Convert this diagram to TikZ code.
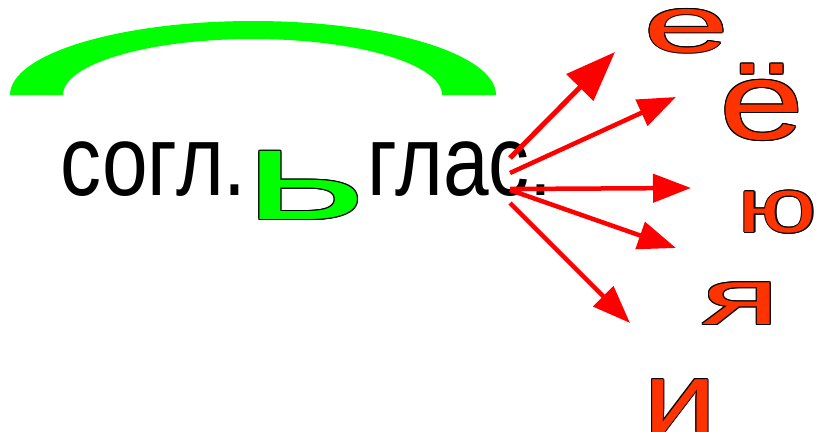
\documentclass[tikz,border=0pt]{standalone}
\usepackage{fontspec}
\setmainfont{Liberation Sans}
\usepackage{graphicx}
\usetikzlibrary{arrows.meta}
\definecolor{orred}{RGB}{255,51,0}
\definecolor{brgreen}{RGB}{0,255,0}
\definecolor{arred}{RGB}{255,0,0}
\newcommand\olsh[3]{\rlap{\hspace*{#1}\raisebox{#2}{#3}}}
\newcommand\outl[2]{{\color{black}%
  \olsh{1.1pt}{0pt}{#2}\olsh{-1.1pt}{0pt}{#2}\olsh{0pt}{1.1pt}{#2}\olsh{0pt}{-1.1pt}{#2}%
  \olsh{.8pt}{.8pt}{#2}\olsh{-.8pt}{.8pt}{#2}\olsh{.8pt}{-.8pt}{#2}\olsh{-.8pt}{-.8pt}{#2}}%
  \textcolor{#1}{#2}}
\tikzset{
  lbl/.style={inner sep=0pt, outer sep=0pt, anchor=center},
  arr/.style={draw=arred, line width=4.5pt, -{Triangle[length=38pt,width=28pt]}}
}
\begin{document}
\begin{tikzpicture}[x=1pt,y=-1pt]
\useasboundingbox (0,0) rectangle (819,431);
% green arc
\fill[brgreen] (10,95) arc[start angle=180,end angle=360,x radius=243,y radius=74]
  -- (442,95) arc[start angle=0,end angle=-180,x radius=189.5,y radius=56] -- cycle;
% texts
\node[lbl] (t1) at (153.5,169) {\fontsize{82}{90}\selectfont\scalebox{1}[1.22]{согл.}};
\node[lbl] (t2) at (460,169) {\fontsize{82}{90}\selectfont\scalebox{1}[1.22]{глас.}};
\node[lbl] (soft) at (305.5,185.5) {\fontsize{129}{140}\selectfont\outl{brgreen}{\scalebox{1.84}[1]{ь}}};
% vowels
\node[lbl] (le) at (686.5,31) {\fontsize{80}{90}\selectfont\outl{orred}{\scalebox{1.94}[1]{е}}};
\node[lbl] (lyo) at (762,102.5) {\fontsize{110}{120}\selectfont\outl{orred}{\scalebox{1.39}[1]{ё}}};
\node[lbl] (lyu) at (777.5,212) {\fontsize{77}{90}\selectfont\outl{orred}{\scalebox{1.37}[1]{ю}}};
\node[lbl] (lya) at (741,303.5) {\fontsize{79}{90}\selectfont\outl{orred}{\scalebox{1.84}[1]{я}}};
\node[lbl] (li) at (680,406) {\fontsize{100}{110}\selectfont\outl{orred}{\scalebox{1.32}[1]{и}}};
% arrows
\coordinate (s1) at (510,158); \coordinate (e1) at (615,52);
\coordinate (s2) at (510,173); \coordinate (e2) at (676,97);
\coordinate (s3) at (510,189); \coordinate (e3) at (691,188);
\coordinate (s4) at (510,190); \coordinate (e4) at (676,248);
\coordinate (s5) at (510,203); \coordinate (e5) at (630,323);
\draw[arr, line width=5pt, -{Triangle[length=50pt,width=37pt]}] (s1) -- (e1);
\draw[arr] (s2) -- (e2);
\draw[arr] (s3) -- (e3);
\draw[arr] (s4) -- (e4);
\draw[arr] (s5) -- (e5);
\end{tikzpicture}
\end{document}
